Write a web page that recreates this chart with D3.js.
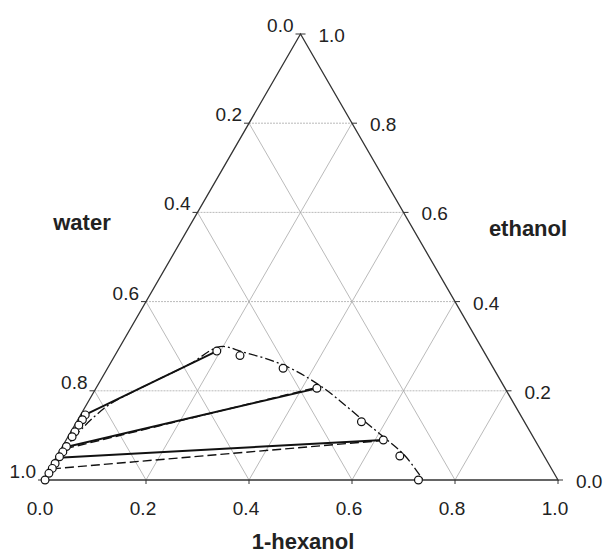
<!DOCTYPE html>
<html>
<head>
<meta charset="utf-8">
<script src="https://cdn.jsdelivr.net/npm/d3@7"></script>
<style>
  body { margin: 0; background: #fff; }
  text { font-family: "Liberation Sans", Arial, sans-serif; fill: #222; }
</style>
</head>
<body>
<script>
// tick values along each side
var ticks = [0.0, 0.2, 0.4, 0.6, 0.8, 1.0];
var gridVals = [0.2, 0.4, 0.6, 0.8];

// experimental binodal, organic-rich side (1-hexanol, ethanol)
var orgHexanol = [0.193, 0.243, 0.341, 0.429, 0.553, 0.616, 0.666, 0.729];
var orgEthanol = [0.289, 0.279, 0.2505, 0.2056, 0.1307, 0.0897, 0.0538, 0.0];

// experimental binodal, water-rich side
var aqHexanol = [0.009, 0.009, 0.008, 0.008, 0.008, 0.008, 0.007, 0.006, 0.005, 0.005, 0.004, 0.004];
var aqEthanol = [0.146, 0.135, 0.123, 0.108, 0.097, 0.075, 0.063, 0.052, 0.037, 0.026, 0.015, 0.0];

// experimental tie lines: [hexanol, ethanol] ends
var tieAq  = [[0.0085, 0.146], [0.008, 0.074], [0.005, 0.050]];
var tieOrg = [[0.193, 0.289], [0.429, 0.2056], [0.616, 0.0897]];

// calculated tie lines
var calcTieAq  = [[0.008, 0.070], [0.005, 0.025]];
var calcTieOrg = [[0.435, 0.210], [0.610, 0.088]];

// calculated binodal curve
var calcHexanol = [0.004, 0.006, 0.008, 0.011, 0.018, 0.030, 0.045, 0.0995, 0.155, 0.194, 0.245, 0.340, 0.435, 0.550, 0.620, 0.675, 0.738];
var calcEthanol = [0.0, 0.030, 0.060, 0.090, 0.115, 0.145, 0.170, 0.2166, 0.260, 0.299, 0.287, 0.257, 0.210, 0.137, 0.092, 0.055, 0.0];

var width = 605, height = 554;

var svg = d3.select("body")
            .append("svg")
            .attr("width", width)
            .attr("height", height);

// horizontal position is hexanol + ethanol/2, vertical is ethanol
var x = d3.scaleLinear().domain([0, 1]).range([43, 558]);
var y = d3.scaleLinear().domain([0, 1]).range([480, 34]);

function pt(h, e) { return [x(h + e / 2), y(e)]; }

var line = d3.line();

// grid
var grid = svg.append("g")
    .attr("stroke", "#a8a8a8")
    .attr("stroke-width", 0.8)
    .attr("fill", "none");

gridVals.forEach(function(v) {
  // ethanol constant
  grid.append("path").attr("d", line([pt(0, v), pt(1 - v, v)]))
      .attr("stroke-dasharray", "2,1");
  // hexanol constant
  grid.append("path").attr("d", line([pt(v, 0), pt(v, 1 - v)]));
  // water constant
  grid.append("path").attr("d", line([pt(v, 0), pt(0, v)]));
});

// triangle
svg.append("path")
   .attr("d", line([pt(0, 0), pt(1, 0), pt(0, 1)]) + "Z")
   .attr("fill", "none")
   .attr("stroke", "#333")
   .attr("stroke-width", 1.3);

// ticks and labels
var axes = svg.append("g");
ticks.forEach(function(v) {
  // bottom: 1-hexanol
  var b = pt(v, 0);
  axes.append("line").attr("x1", b[0]).attr("y1", b[1]).attr("x2", b[0]).attr("y2", b[1] + 4)
      .attr("stroke", "#333");
  axes.append("text").attr("x", b[0] - 3).attr("y", b[1] + 35)
      .attr("text-anchor", "middle").style("font-size", "19px")
      .text(v.toFixed(1));

  // left: water (0 at top, 1 at bottom-left)
  var l = pt(0, 1 - v);
  axes.append("line").attr("x1", l[0] - 5).attr("y1", l[1]).attr("x2", l[0]).attr("y2", l[1])
      .attr("stroke", "#333");
  axes.append("text").attr("x", l[0] - 7).attr("y", l[1] - 2)
      .attr("text-anchor", "end").style("font-size", "19px")
      .text(v.toFixed(1));

  // right: ethanol
  var r = pt(1 - v, v);
  axes.append("line").attr("x1", r[0]).attr("y1", r[1]).attr("x2", r[0] + 5).attr("y2", r[1])
      .attr("stroke", "#333");
  axes.append("text").attr("x", r[0] + 18).attr("y", r[1] + 8)
      .attr("text-anchor", "start").style("font-size", "19px")
      .text(v.toFixed(1));
});

svg.append("text").attr("x", 82).attr("y", 230).attr("text-anchor", "middle")
   .style("font-size", "22px").style("font-weight", "bold").text("water");
svg.append("text").attr("x", 528).attr("y", 236).attr("text-anchor", "middle")
   .style("font-size", "22px").style("font-weight", "bold").text("ethanol");
svg.append("text").attr("x", 303).attr("y", 549).attr("text-anchor", "middle")
   .style("font-size", "22px").style("font-weight", "bold").text("1-hexanol");

// calculated binodal (dash-dot)
var calcPts = calcHexanol.map(function(h, i) { return pt(h, calcEthanol[i]); });
svg.append("path")
   .attr("d", d3.line().curve(d3.curveCatmullRom)(calcPts))
   .attr("fill", "none")
   .attr("stroke", "#111")
   .attr("stroke-width", 1.3)
   .attr("stroke-dasharray", "9,3,2,3");

// calculated tie lines (dashed)
calcTieAq.forEach(function(a, i) {
  var o = calcTieOrg[i];
  svg.append("path")
     .attr("d", line([pt(a[0], a[1]), pt(o[0], o[1])]))
     .attr("stroke", "#111")
     .attr("stroke-width", 1.4)
     .attr("stroke-dasharray", "9,4");
});

// experimental tie lines (solid)
tieAq.forEach(function(a, i) {
  var o = tieOrg[i];
  svg.append("path")
     .attr("d", line([pt(a[0], a[1]), pt(o[0], o[1])]))
     .attr("stroke", "#111")
     .attr("stroke-width", 1.9);
});

// experimental points
var pts = orgHexanol.map(function(h, i) { return pt(h, orgEthanol[i]); })
  .concat(aqHexanol.map(function(h, i) { return pt(h, aqEthanol[i]); }));

svg.append("g").selectAll("circle")
   .data(pts)
   .enter()
   .append("circle")
   .attr("cx", function(d) { return d[0]; })
   .attr("cy", function(d) { return d[1]; })
   .attr("r", 3.9)
   .attr("fill", "#fff")
   .attr("stroke", "#111")
   .attr("stroke-width", 1.2);
</script>
</body>
</html>
